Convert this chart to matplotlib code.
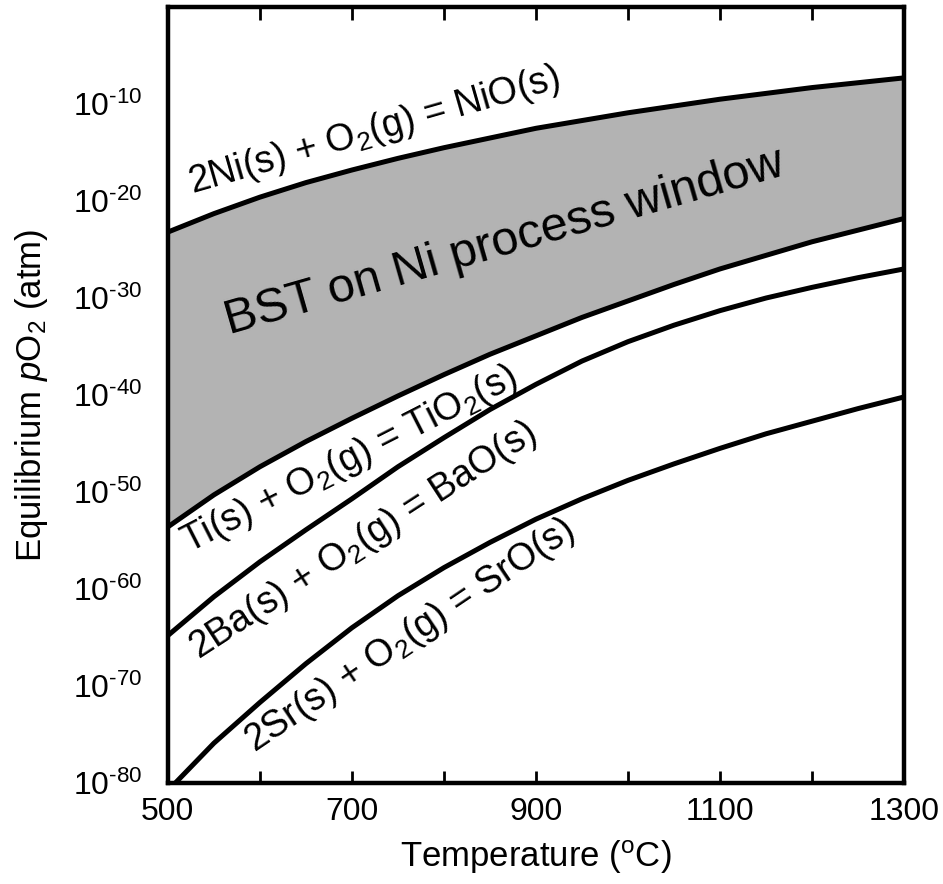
import numpy as np
import matplotlib.pyplot as plt

plt.rcParams['font.family'] = ['Liberation Sans', 'DejaVu Sans']
plt.rcParams['mathtext.fontset'] = 'custom'
plt.rcParams['mathtext.rm'] = 'Liberation Sans'
plt.rcParams['mathtext.it'] = 'Liberation Sans:italic'

# Temperature grid (deg C) and log10 of equilibrium pO2 (atm) for each oxide
temps = [500, 550, 600, 650, 700, 750, 800, 850, 900, 950,
         1000, 1050, 1100, 1150, 1200, 1250, 1300]
log_nio = [-23.2, -21.3, -19.6, -18.1, -16.8, -15.6, -14.5, -13.5, -12.5, -11.7,
           -10.9, -10.2, -9.5, -8.9, -8.3, -7.8, -7.3]
log_tio2 = [-53.6, -50.3, -47.4, -44.8, -42.4, -40.1, -37.9, -35.8, -33.9, -32.0,
            -30.3, -28.6, -27.0, -25.6, -24.2, -23.0, -21.8]
log_bao = [-64.8, -60.8, -57.2, -53.9, -50.7, -47.4, -44.4, -41.5, -38.9, -36.5,
           -34.5, -32.8, -31.3, -30.0, -28.9, -27.9, -27.0]
log_sro = [-80.8, -75.9, -71.7, -67.7, -64.0, -60.7, -57.8, -55.2, -52.8, -50.7,
           -48.8, -47.1, -45.5, -44.0, -42.7, -41.4, -40.2]

xticks = [500, 600, 700, 800, 900, 1000, 1100, 1200, 1300]
xtick_labels = ['500', '', '700', '', '900', '', '1100', '', '1300']
ytick_exps = [-80, -70, -60, -50, -40, -30, -20, -10]

T = np.array(temps)
nio = 10.0 ** np.array(log_nio)
tio2 = 10.0 ** np.array(log_tio2)
bao = 10.0 ** np.array(log_bao)
sro = 10.0 ** np.array(log_sro)

fig = plt.figure(figsize=(9.43, 8.84), dpi=100)
ax = fig.add_axes([0.178, 0.1143, 0.7807, 0.8777])

# process window between Ni oxidation and Ti oxidation
ax.fill_between(T, tio2, nio, color='#b3b3b3', lw=0, zorder=1)
for y in (nio, tio2, bao, sro):
    ax.plot(T, y, color='black', lw=3.6, solid_capstyle='butt',
            solid_joinstyle='round', zorder=3)

ax.set_yscale('log')
ax.set_xlim(500, 1300)
ax.set_ylim(1e-80, 1e0)

ax.set_xticks(xticks)
ax.set_xticklabels(xtick_labels)
ax.minorticks_off()
ax.set_yticks([10.0 ** e for e in ytick_exps])
ax.set_yticklabels(['$10^{\u2010%d}$' % -e for e in ytick_exps])
ax.tick_params(axis='x', direction='in', length=9, width=2, top=True,
               labelsize=23, pad=10)
ax.tick_params(axis='y', length=0, labelsize=23, pad=18)
for s in ax.spines.values():
    s.set_linewidth(3.2)
    s.set_zorder(5)

ax.set_xlabel(r'Temperature ($^{\mathrm{o}}$C)', fontsize=25, labelpad=8)
ax.set_ylabel(r'Equilibrium $\it{p}$O$_2$ (atm)', fontsize=25, labelpad=17)

# reaction labels along the curves
lab = dict(ha='center', va='center', fontsize=27, zorder=4)
ax.text(724, 10 ** -12.8, r'2Ni(s) + O$_2$(g) = NiO(s)', rotation=16, **lab)
ax.text(697, 10 ** -46.7, r'Ti(s) + O$_2$(g) = TiO$_2$(s)', rotation=27, **lab)
ax.text(712, 10 ** -55.0, r'2Ba(s) + O$_2$(g) = BaO(s)', rotation=33, **lab)
ax.text(763, 10 ** -64.8, r'2Sr(s) + O$_2$(g) = SrO(s)', rotation=34, **lab)
ax.text(866, 10 ** -24.3, 'BST on Ni process window', rotation=16,
        ha='center', va='center', fontsize=35, zorder=4)

fig.savefig('out.png', dpi=100)
